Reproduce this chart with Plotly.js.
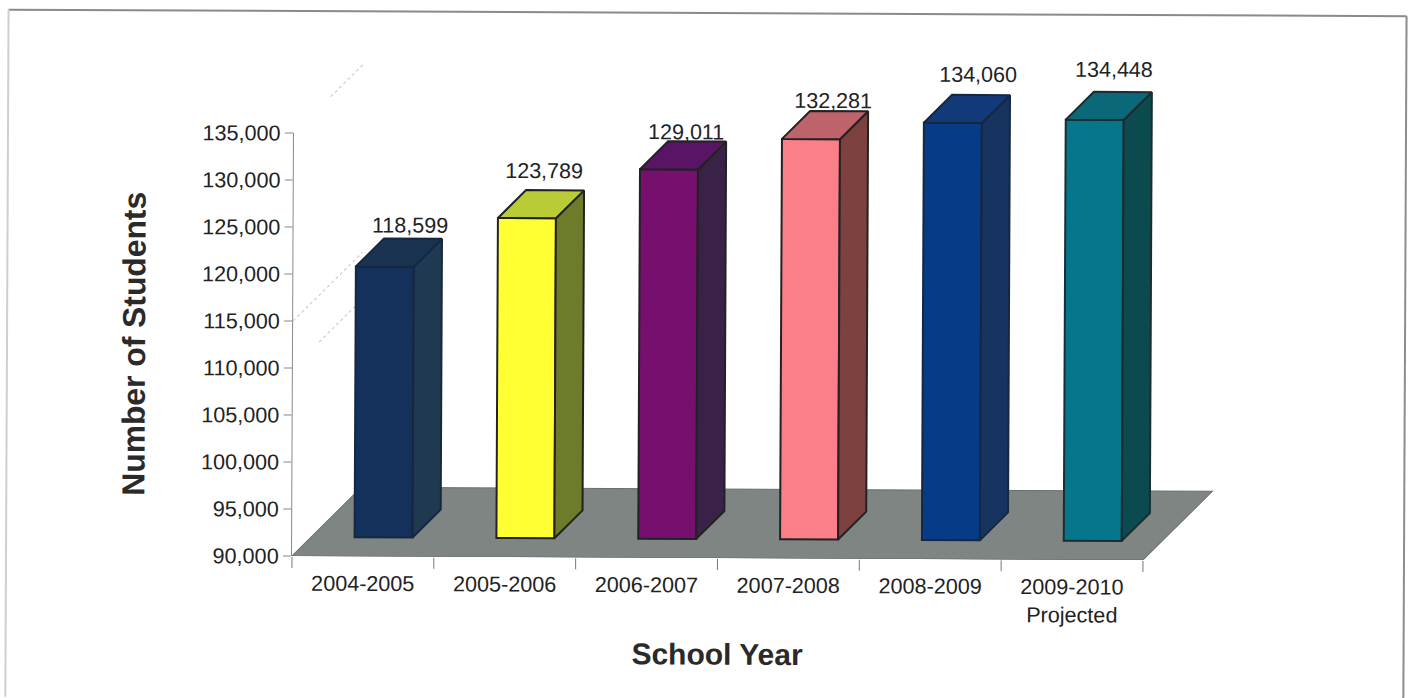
<!DOCTYPE html>
<html>
<head>
<meta charset="utf-8">
<script src="https://cdn.plot.ly/plotly-3.0.1.min.js"></script>
<style>
  html, body { margin: 0; padding: 0; background: #fff; overflow: hidden; }
  /* the printed page sits very slightly askew */
  #chart { width: 1409px; height: 698px; transform: rotate(0.27deg); transform-origin: 292px 556px; }
  /* crisp edges break up thin lines once the page is turned */
  #chart .crisp { shape-rendering: geometricPrecision !important; }
</style>
</head>
<body>
<div id="chart"></div>
<script>
// Enrollment by school year
const schoolYears = ['2004-2005', '2005-2006', '2006-2007', '2007-2008', '2008-2009', '2009-2010<br>Projected'];
const students = [118599, 123789, 129011, 132281, 134060, 134448];
const valueTicks = [90000, 95000, 100000, 105000, 110000, 115000, 120000, 125000, 130000, 135000];
const frontColors = ['#13315a', '#ffff33', '#760f6e', '#fb7f88', '#063b88', '#05768c'];
const sideColors = ['#1f3a50', '#6c7c2a', '#3a2148', '#7d4140', '#16345f', '#0b4a4e'];
const topColors = ['#1a3350', '#b9cb35', '#5a1466', '#bf636b', '#123a78', '#0a6878'];
const edgeColors = ['#16283f', '#222222', '#222222', '#222222', '#16283f', '#1c2c30'];

// Label placement above each column, in pixels from the column's front top-left corner
const labelDx = [54, 46, 46, 51, 54, 48];
const labelRise = [39.5, 45.5, 35.5, 36.5, 46.5, 48.5];

// Faint wall gridlines: value and how far back along the wall they become visible
const wallLines = [[135000, 0.53], [115000, 0], [110000, 0.38]];

// Page geometry (pixels)
const W = 1409, H = 698;
const axisLeft = 292, axisRight = 1143, axisBottom = 556, axisTop = 133;
const pxPerCat = (axisRight - axisLeft) / schoolYears.length;
const pxPerVal = (axisBottom - axisTop) / 45000;
const columnPxPerVal = 0.00947;  // columns are drawn on a slightly taller scale than the wall
const floorDepth = 69;           // px, both across and up
const columnLift = 19;           // px the column front stands behind the floor's front edge
const columnDepth = 28;          // px
const columnLeft = 62.5 / pxPerCat, columnWidth = 58 / pxPerCat;

// Oblique overlay axes: y2 reads a value at the height of the column fronts
const overlayRight = 1240, overlayTop = 40;
const y2Min = 90000 - columnLift / columnPxPerVal;
const y2Max = y2Min + (axisBottom - overlayTop) / columnPxPerVal;
const x2Max = (overlayRight - axisLeft) / pxPerCat;
const catOf = px => px / pxPerCat;
const valOf = px => px / columnPxPerVal;

const traces = [];

// Front edge of the floor keeps the value axes in the primary subplot
traces.push({
  type: 'scatter', mode: 'lines', x: [0, 6], y: [90000, 90000], xaxis: 'x', yaxis: 'y',
  line: { color: '#5f6361', width: 1.5 }, hoverinfo: 'skip', showlegend: false
});

// Column fronts
traces.push({
  type: 'bar', xaxis: 'x2', yaxis: 'y2', showlegend: false,
  x: students.map((_, i) => i + columnLeft + columnWidth / 2),
  y: students.map(v => v - 90000),
  base: students.map(() => 90000),
  width: columnWidth,
  marker: { color: frontColors, line: { color: edgeColors, width: 2 } },
  customdata: students, hovertemplate: '%{customdata:,}<extra></extra>'
});

// Column side and top faces, derived from each value
students.forEach((v, i) => {
  const x0 = i + columnLeft, x1 = x0 + columnWidth;
  const bx = catOf(columnDepth), by = valOf(columnDepth);
  const face = (x, y, fill) => traces.push({
    type: 'scatter', mode: 'lines', xaxis: 'x2', yaxis: 'y2', x, y, fill: 'toself',
    fillcolor: fill, line: { color: edgeColors[i], width: 2, shape: 'linear' },
    hoverinfo: 'skip', showlegend: false
  });
  face([x1, x1 + bx, x1 + bx, x1, x1], [90000, 90000 + by, v + by, v, 90000], sideColors[i]);
  face([x0, x0 + bx, x1 + bx, x1, x0], [v, v + by, v + by, v, v], topColors[i]);
});

// Value labels
traces.push({
  type: 'scatter', mode: 'text', xaxis: 'x2', yaxis: 'y2', showlegend: false, hoverinfo: 'skip',
  x: students.map((_, i) => i + columnLeft + catOf(labelDx[i])),
  y: students.map((v, i) => v + valOf(labelRise[i])),
  text: students.map(v => v.toLocaleString('en-US')),
  textposition: 'middle center',
  textfont: { family: 'Liberation Sans, Arial, sans-serif', size: 21.5, color: '#222' },
  cliponaxis: false
});

// Floor parallelogram and wall gridlines sit behind the columns
const floorBack = y2Min + valOf(floorDepth);
const floorBackX = catOf(floorDepth);
const shapes = [{
  type: 'path', xref: 'x2', yref: 'y2', layer: 'below',
  path: `M0,${y2Min} L6,${y2Min} L${6 + floorBackX},${floorBack} L${floorBackX},${floorBack} Z`,
  fillcolor: '#7f8583', line: { color: '#6a6e6c', width: 1 }
}];
wallLines.forEach(([val, from]) => {
  const rise = (val - 90000) * pxPerVal;
  shapes.push({
    type: 'line', xref: 'x2', yref: 'y2', layer: 'below',
    x0: from * floorBackX, y0: y2Min + valOf(rise + from * floorDepth),
    x1: floorBackX, y1: y2Min + valOf(rise + floorDepth),
    line: { color: '#c4c4c4', width: 1, dash: 'dot' }
  });
});

// Scan frame around the page
const frame = (x0, y0, x1, y1, color, width) => ({
  type: 'line', xref: 'paper', yref: 'paper', layer: 'below',
  x0: x0 / W, y0: 1 - y0 / H, x1: x1 / W, y1: 1 - y1 / H,
  line: { color, width }
});
shapes.push(frame(6, 11, 1404, 11, '#8a8a8a', 2));
shapes.push(frame(6, 11, 6, 700, '#cfcfcf', 2));
shapes.push(frame(1404, 11, 1404, 700, '#8c8c8c', 2));

const tickFont = { family: 'Liberation Sans, Arial, sans-serif', size: 21.6, color: '#222' };
const xTitleFont = { family: 'Liberation Sans, Arial, sans-serif', size: 30, color: '#2a2a2a' };
const yTitleFont = { family: 'Liberation Sans, Arial, sans-serif', size: 31.8, color: '#2a2a2a' };

const layout = {
  width: W, height: H, margin: { l: 0, r: 0, t: 0, b: 0 },
  paper_bgcolor: '#ffffff', plot_bgcolor: 'rgba(0,0,0,0)',
  showlegend: false, bargap: 0, barmode: 'overlay', shapes,
  font: tickFont,
  xaxis: {
    domain: [axisLeft / W, axisRight / W], range: [0, 6], anchor: 'y',
    showgrid: false, zeroline: false, showline: false,
    tickmode: 'array', tickvals: schoolYears.map((_, i) => i + 0.5), ticktext: schoolYears,
    ticks: '', tickfont: tickFont, ticklabelstandoff: 12,
    minor: { tickmode: 'array', tickvals: [0, 1, 2, 3, 4, 5, 6], ticks: 'outside', ticklen: 11, tickwidth: 1, tickcolor: '#777' },
    title: { text: '<b>School Year</b>', font: xTitleFont, standoff: 18.5 }
  },
  yaxis: {
    domain: [1 - axisBottom / H, 1 - axisTop / H], range: [90000, 135000], anchor: 'x',
    showgrid: false, zeroline: false, showline: true, linecolor: '#8a8a8a', linewidth: 1,
    tickmode: 'array', tickvals: valueTicks, ticktext: valueTicks.map(v => v.toLocaleString('en-US')),
    ticks: 'outside', ticklen: 8, tickwidth: 1, tickcolor: '#888', tickfont: tickFont,
    title: { text: '<b>Number of Students</b>', font: yTitleFont, standoff: 46 }
  },
  xaxis2: { domain: [axisLeft / W, overlayRight / W], range: [0, x2Max], anchor: 'y2', visible: false, fixedrange: true },
  yaxis2: { domain: [1 - axisBottom / H, 1 - overlayTop / H], range: [y2Min, y2Max], anchor: 'x2', visible: false, fixedrange: true }
};

Plotly.newPlot('chart', traces, layout, { displayModeBar: false, staticPlot: true });
</script>
</body>
</html>
